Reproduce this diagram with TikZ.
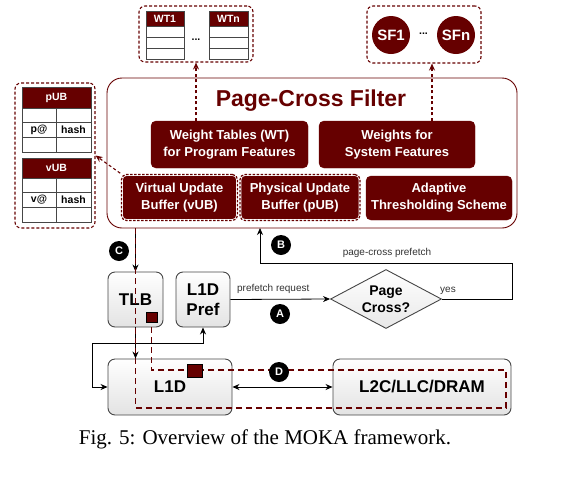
\documentclass[tikz,border=0pt]{standalone}
\usepackage{fontspec}
\setmainfont{Liberation Sans}
\newfontfamily\capfont{Liberation Serif}
\usetikzlibrary{arrows.meta,shapes.geometric,calc}
\definecolor{dred}{RGB}{102,0,0}
\definecolor{gborder}{RGB}{70,70,70}
\definecolor{lbltxt}{RGB}{50,50,50}
\tikzset{
 dbox/.style={draw=dred, dash pattern=on 3pt off 2pt, line width=1.1pt, rounded corners=6pt, inner sep=0pt},
 redbox/.style={fill=dred, draw=dred, rounded corners=5pt, text=white, font=\fontsize{13}{17}\selectfont\bfseries, align=center, inner sep=1pt},
 ubbuf/.style={fill=dred, draw=white, line width=2.6pt, rounded corners=5pt, text=white, font=\fontsize{13}{17}\selectfont\bfseries, align=center, inner sep=1pt,
   postaction={draw=dred, line width=1.2pt, dash pattern=on 2.5pt off 1.5pt}},
 graybox/.style={draw=gborder, line width=0.9pt, rounded corners=7pt, top color=white, bottom color=gray!22, font=\fontsize{17}{20}\selectfont\bfseries, align=center, inner sep=0pt},
 arr/.style={-{Stealth[length=7pt,width=6pt]}, line width=0.8pt},
 darr/.style={{Stealth[length=7pt,width=6pt]}-{Stealth[length=7pt,width=6pt]}, line width=0.8pt},
 dasharr/.style={draw=dred, line width=1.1pt, dash pattern=on 3pt off 2.5pt, -{Stealth[length=7pt,width=6pt]}},
 reddash/.style={draw=dred, line width=1.8pt, dash pattern=on 6pt off 4pt},
 badge/.style={circle, fill=black, text=white, minimum size=20pt, inner sep=0pt, font=\fontsize{11}{11}\selectfont\bfseries},
 hdr/.style={fill=dred, draw=gborder, line width=0.8pt, text=white, inner sep=0pt, font=\fontsize{10.5}{12}\selectfont\bfseries},
 tab/.style={draw=gborder, line width=0.8pt},
 cell/.style={font=\fontsize{10.5}{12}\selectfont\bfseries, inner sep=0pt},
 lbl/.style={font=\fontsize{10}{12}\selectfont, text=lbltxt, inner sep=0pt},
 sq/.style={fill=dred, draw=black, line width=0.5pt, inner sep=0pt}
}
\begin{document}
\begin{tikzpicture}[x=1pt,y=-1pt]
\useasboundingbox (0,0) rectangle (570,477);

% ---------- Weight tables group ----------
\node[dbox, minimum width=114pt, minimum height=56pt] (wtbox) at (196,34) {};
\node[hdr, minimum width=38pt, minimum height=15pt] (wt1) at (165,18.5) {WT1};
\draw[tab] (146,26) rectangle (184,59);
\draw[tab] (146,37) -- (184,37) (146,48) -- (184,48);
\node[hdr, minimum width=39pt, minimum height=15pt] (wtn) at (228.5,18.5) {WTn};
\draw[tab] (209,26) rectangle (248,59);
\draw[tab] (209,37) -- (248,37) (209,48) -- (248,48);
\node[cell] (wtdots) at (196,40) {...};

% ---------- System features group ----------
\node[dbox, minimum width=114pt, minimum height=57pt] (sfbox) at (424,34.5) {};
\node[circle, fill=dred, minimum size=38pt, inner sep=0pt, text=white, font=\fontsize{15}{15}\selectfont\bfseries] (sf1) at (391,35) {SF1};
\node[circle, fill=dred, minimum size=38pt, inner sep=0pt, text=white, font=\fontsize{15}{15}\selectfont\bfseries] (sfn) at (456,35) {SFn};
\node[cell] (sfdots) at (423.5,34) {...};

% ---------- pUB / vUB tables ----------
\node[dbox, minimum width=80pt, minimum height=145pt] (ubbox) at (55,155.5) {};
\node[hdr, minimum width=69pt, minimum height=21pt] (pubh) at (56.5,97.5) {pUB};
\draw[tab] (22,108) rectangle (91,152);
\draw[tab] (22,122) -- (91,122) (22,137) -- (91,137) (56,108) -- (56,152);
\node[cell] (pat) at (39,129.5) {p@};
\node[cell] (phash) at (73.5,129.5) {hash};
\node[hdr, minimum width=69pt, minimum height=20pt] (vubh) at (56.5,168) {vUB};
\draw[tab] (22,178) rectangle (91,222);
\draw[tab] (22,192) -- (91,192) (22,207) -- (91,207) (56,178) -- (56,222);
\node[cell] (vat) at (39,199.5) {v@};
\node[cell] (vhash) at (73.5,199.5) {hash};

% ---------- Page-Cross Filter ----------
\node[draw=dred, line width=0.9pt, rounded corners=15pt, minimum width=410pt, minimum height=150pt] (pcf) at (312,153) {};
\node[text=dred, font=\fontsize{23}{26}\selectfont\bfseries, inner sep=0pt] (title) at (311,101) {Page-Cross Filter};
\node[redbox, minimum width=157pt, minimum height=47pt] (wt) at (229.5,144.5) {Weight Tables (WT)\\for Program Features};
\node[redbox, minimum width=156pt, minimum height=47pt] (wsf) at (397,144.5) {Weights for\\System Features};
\node[ubbuf, minimum width=116pt, minimum height=46pt] (vub) at (179.5,197.5) {Virtual Update\\Buffer (vUB)};
\node[ubbuf, minimum width=120pt, minimum height=46pt] (pub) at (300,197.5) {Physical Update\\Buffer (pUB)};
\node[redbox, minimum width=146pt, minimum height=44pt] (ats) at (439,198) {Adaptive\\Thresholding Scheme};

\draw[dasharr] (wtbox.south |- wt.north) -- (wtbox.south);
\coordinate (sfin) at ([xshift=8pt]sfbox.south);
\draw[dasharr] (sfin |- wsf.north) -- (sfin);
\draw[dasharr] (vub.north west) -- (ubbox.east);

% ---------- Memory hierarchy ----------
\node[graybox, minimum width=55pt, minimum height=55pt] (tlb) at (135.5,299.5) {TLB};
\node[graybox, minimum width=54pt, minimum height=55pt] (pref) at (203,299.5) {L1D\\Pref};
\node[graybox, minimum width=124pt, minimum height=56pt] (l1d) at (170,387) {L1D};
\node[graybox, minimum width=178pt, minimum height=56pt] (l2c) at (422,387) {L2C/LLC/DRAM};
\node[diamond, aspect=2, draw=gborder, line width=0.9pt, top color=white, bottom color=gray!18, minimum width=111pt, minimum height=59pt, inner sep=0pt, align=center, font=\fontsize{14}{17}\selectfont\bfseries] (pc) at (386,299) {Page\\Cross?};

% prefetch request
\draw[arr] (pref.east) -- node[lbl, above=5pt, pos=0.43] (preq) {prefetch request} (pc.west);
% page-cross prefetch back to filter
\coordinate (r1) at (512,263);
\coordinate (bx) at (260,228);
\draw[arr] (pc.east) -| (r1) -| (bx);
\node[lbl] (yes) at (448,291) {yes};
\node[lbl] (pcp) at (387,253) {page-cross prefetch};

% L1D <-> L2C
\draw[darr] (l1d.east) -- (l2c.west);
% L1D Pref <-> L1D
\coordinate (lc) at (92,343);
\draw[darr] (pref.south) |- (lc) |- (l1d.west);

% C arrows (filter -> TLB -> L1D)
\draw[arr] (tlb.north |- pcf.south) -- (tlb.north);
\draw[arr] (tlb.south) -- (tlb.south |- l1d.north);

% red dashed path D
\coordinate (d1) at (135.5,408);
\coordinate (d2) at (506,408);
\coordinate (d3) at (506,370);
\coordinate (d4) at (151.5,370);
\coordinate (tsqs) at (151.5,322);
\draw[reddash] (tlb.north |- pcf.south) -- (d1) -- (d2) -- (d3) -- (d4) -- (tsqs);
\node[sq, minimum width=11pt, minimum height=10pt] (tsq) at (151.5,317.5) {};
\node[sq, minimum width=15pt, minimum height=13pt] (lsq) at (194.5,370.5) {};

% badges
\node[badge] (bc) at (119,251) {C};
\node[badge] (bb) at (281,245) {B};
\node[badge] (ba) at (280,314) {A};
\node[badge] (bd) at (279,372) {D};

% caption
\node[inner sep=0pt, font=\capfont\fontsize{21}{24}\selectfont] (cap) at (265,439) {Fig. 5: Overview of the MOKA framework.};
\end{tikzpicture}
\end{document}
